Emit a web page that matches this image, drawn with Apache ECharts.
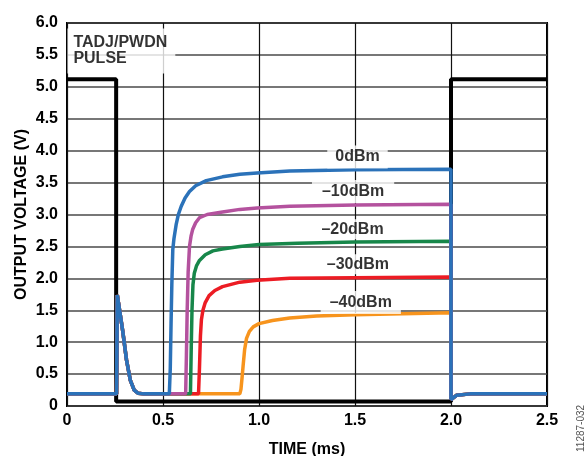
<!DOCTYPE html>
<html>
<head>
<meta charset="utf-8">
<script src="https://cdn.jsdelivr.net/npm/echarts@6/dist/echarts.min.js"></script>
<style>
  html, body { margin: 0; padding: 0; background: #fff; }
  #chart { width: 587px; height: 456px; }
</style>
</head>
<body>
<div id="chart"></div>
<script>
// TADJ/PWDN control pulse (V) against time (ms)
const pulseT = [0, 0.256, 0.256, 2.0, 2.0, 2.5];
const pulseV = [5.12, 5.12, 0.07, 0.07, 5.12, 5.12];

// Detector output before RF settles: baseline and the turn-on glitch
const spikeT = [0, 0.258, 0.262, 0.275, 0.29, 0.31, 0.33, 0.35, 0.37, 0.40];
const spikeV = [0.19, 0.19, 1.74, 1.48, 1.18, 0.72, 0.40, 0.25, 0.20, 0.19];

// Output after power-down at 2.0 ms
const tailT = [2.0, 2.006, 2.03, 2.1, 2.5];
const tailV = [0.10, 0.12, 0.17, 0.19, 0.19];

// Rise of the output for each RF input level
const rise0T = [0.533, 0.538, 0.542, 0.546, 0.551, 0.557, 0.569, 0.58, 0.595, 0.615, 0.638, 0.67, 0.725, 0.81, 0.9, 0.99, 1.16, 1.5, 2.0];
const rise0V = [0.19, 0.6, 1.3, 1.9, 2.45, 2.62, 2.85, 3.0, 3.13, 3.26, 3.36, 3.45, 3.53, 3.59, 3.63, 3.65, 3.68, 3.70, 3.71];

const rise10T = [0.618, 0.622, 0.626, 0.631, 0.638, 0.646, 0.655, 0.67, 0.69, 0.73, 0.81, 0.9, 0.99, 1.16, 1.5, 2.0];
const rise10V = [0.19, 0.8, 1.5, 2.1, 2.5, 2.66, 2.77, 2.87, 2.95, 3.0, 3.04, 3.08, 3.1, 3.13, 3.15, 3.16];

const rise20T = [0.643, 0.647, 0.651, 0.656, 0.663, 0.675, 0.69, 0.72, 0.76, 0.81, 0.9, 1.0, 1.2, 1.5, 2.0];
const rise20V = [0.19, 0.9, 1.5, 1.9, 2.08, 2.2, 2.28, 2.37, 2.43, 2.46, 2.5, 2.53, 2.55, 2.57, 2.58];

const rise30T = [0.685, 0.69, 0.695, 0.70, 0.708, 0.72, 0.74, 0.77, 0.81, 0.9, 0.99, 1.16, 1.5, 2.0];
const rise30V = [0.19, 0.6, 1.1, 1.35, 1.5, 1.62, 1.73, 1.81, 1.87, 1.94, 1.97, 2.0, 2.01, 2.02];

const rise40T = [0.9, 0.906, 0.912, 0.917, 0.925, 0.935, 0.95, 0.97, 1.0, 1.07, 1.16, 1.3, 1.5, 2.0];
const rise40V = [0.19, 0.26, 0.45, 0.62, 0.88, 1.06, 1.17, 1.24, 1.29, 1.34, 1.38, 1.41, 1.43, 1.46];

// Series names and colours
const levelNames = ['0dBm', '–10dBm', '–20dBm', '–30dBm', '–40dBm'];
const levelColors = ['#2b72b9', '#b4529e', '#17874a', '#ec1c24', '#f7941d'];

// Annotation text and anchor (time, voltage)
const levelLabelT = [1.513, 1.49, 1.487, 1.515, 1.53];
const levelLabelV = [3.9, 3.36, 2.77, 2.22, 1.62];
const pulseLabel = 'TADJ/PWDN\nPULSE';
const pulseLabelT = 0.002;
const pulseLabelV = 5.56;

// Axis ticks
const xTicks = [0, 0.5, 1.0, 1.5, 2.0, 2.5];
const yTicks = [0, 0.5, 1.0, 1.5, 2.0, 2.5, 3.0, 3.5, 4.0, 4.5, 5.0, 5.5, 6.0];

function zip(t, v) { return t.map((x, i) => [x, v[i]]); }
function trace(riseT, riseV) {
  return zip(spikeT, spikeV).concat(zip(riseT, riseV), zip(tailT, tailV));
}

const rises = [[rise0T, rise0V], [rise10T, rise10V], [rise20T, rise20V], [rise30T, rise30V], [rise40T, rise40V]];

const FONT = '"Liberation Sans", Arial, sans-serif';
const FS = 16;

const series = [{
  name: 'PULSE',
  type: 'line',
  data: zip(pulseT, pulseV),
  showSymbol: false,
  lineStyle: { color: '#000', width: 4 },
  z: 2
}];
// draw the lowest level first so 0dBm ends on top
for (let i = rises.length - 1; i >= 0; i--) {
  series.push({
    name: levelNames[i],
    type: 'line',
    data: trace(rises[i][0], rises[i][1]),
    showSymbol: false,
    lineStyle: { color: levelColors[i], width: 3.5 },
    z: 3 + (rises.length - i)
  });
}

const labelPad = [[4, 8, 3, 8], [4, 10, 3, 10], [2, 9, 2, 9], [2, 9, 2, 9], [3, 9, 4, 9]];
series.push({
  name: 'labels',
  type: 'scatter',
  symbolSize: 0,
  silent: true,
  z: 20,
  data: levelNames.map((n, i) => ({
    value: [levelLabelT[i], levelLabelV[i]],
    label: {
      show: true, position: 'inside', formatter: n,
      color: '#000', fontFamily: FONT, fontWeight: 'bold', fontSize: FS,
      backgroundColor: '#fff', padding: labelPad[i]
    }
  })).concat([{
    value: [pulseLabelT, pulseLabelV],
    label: {
      show: true, position: 'right', distance: 0, formatter: pulseLabel,
      align: 'left', color: '#000', fontFamily: FONT, fontWeight: 'bold',
      fontSize: FS, lineHeight: 16, backgroundColor: '#fff',
      padding: [12, 8, 1, 6]
    }
  }])
});

const chart = echarts.init(document.getElementById('chart'), null, { renderer: 'canvas' });
chart.setOption({
  animation: false,
  backgroundColor: '#fff',
  grid: {
    left: 67, right: 40, top: 23, bottom: 50,
    outerBoundsMode: 'none', containLabel: false,
    show: true, borderColor: '#000', borderWidth: 2, backgroundColor: 'transparent'
  },
  xAxis: {
    type: 'value', min: 0, max: 2.5, interval: 0.5,
    name: 'TIME (ms)', nameLocation: 'middle', nameGap: 36, nameMoveOverlap: false,
    nameTextStyle: { color: '#000', fontFamily: FONT, fontWeight: 'bold', fontSize: FS },
    axisLine: { show: false }, axisTick: { show: false },
    axisLabel: {
      color: '#000', fontFamily: FONT, fontWeight: 'bold', fontSize: FS, margin: 7,
      formatter: v => (xTicks.includes(v) ? (v === 0 ? '0' : v.toFixed(1)) : '')
    },
    splitLine: { show: true, lineStyle: { color: '#111', width: 1.2 } }
  },
  yAxis: {
    type: 'value', min: 0, max: 6, interval: 0.5,
    name: 'OUTPUT VOLTAGE (V)', nameLocation: 'middle', nameGap: 37, nameRotate: 90,
    nameMoveOverlap: false,
    nameTextStyle: { color: '#000', fontFamily: FONT, fontWeight: 'bold', fontSize: FS },
    axisLine: { show: false }, axisTick: { show: false },
    axisLabel: {
      color: '#000', fontFamily: FONT, fontWeight: 'bold', fontSize: FS, margin: 9,
      formatter: v => (yTicks.includes(v) ? (v === 0 ? '0' : v.toFixed(1)) : '')
    },
    splitLine: { show: true, lineStyle: { color: '#4a4a4a', width: 1.5 } }
  },
  graphic: [{
    type: 'text',
    x: 576, y: 452, rotation: Math.PI / 2,
    style: { text: '11287-032', fill: '#555', font: '10px ' + FONT, textAlign: 'left', textVerticalAlign: 'top' }
  }],
  series: series
});
</script>
</body>
</html>
